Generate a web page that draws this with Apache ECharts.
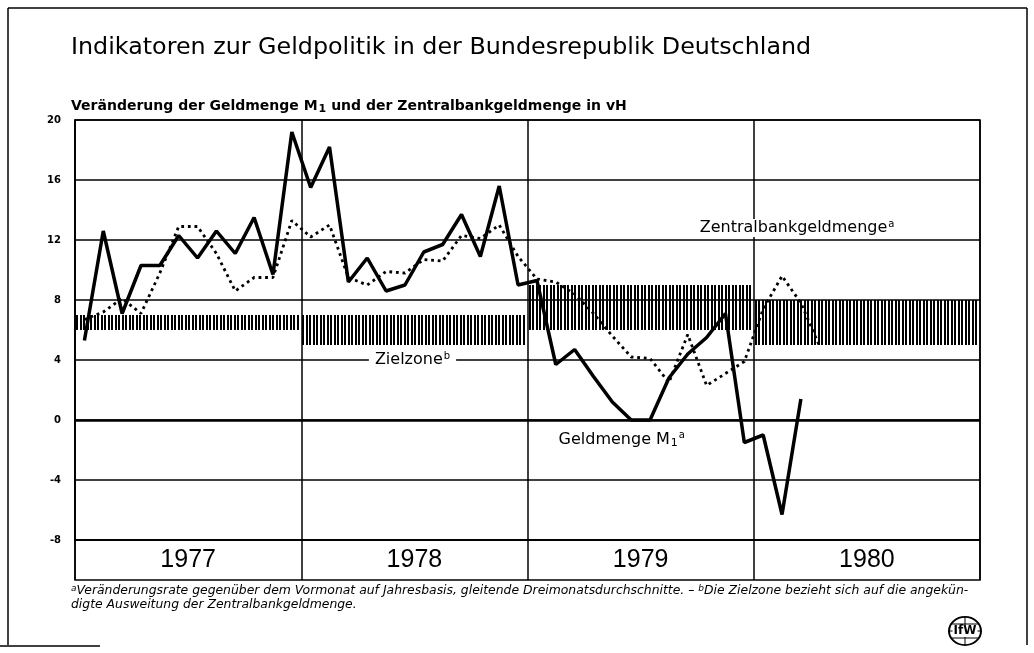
<!DOCTYPE html>
<html>
<head>
<meta charset="utf-8">
<script src="https://cdn.jsdelivr.net/npm/echarts@6/dist/echarts.min.js"></script>
<style>
  html, body { margin: 0; padding: 0; background: #fff; }
  #chart { width: 1034px; height: 653px; }
</style>
</head>
<body>
<div id="chart"></div>
<script>
// monthly values, Jan 1977 onwards (three-month moving averages, % p.a.)
const geldmengeM1 = [
  5.3, 12.6, 7.1, 10.3, 10.3, 12.3, 10.8, 12.6, 11.1, 13.5, 9.7, 19.2,
  15.5, 18.2, 9.2, 10.8, 8.6, 9.0, 11.2, 11.7, 13.7, 10.9, 15.6, 9.0,
  9.3, 3.7, 4.7, 2.9, 1.2, 0.0, 0.0, 2.8, 4.4, 5.5, 7.1, -1.5,
  -1.0, -6.3, 1.4
];
const zentralbankgeld = [
  6.7, 7.2, 8.1, 7.1, 9.8, 12.9, 12.9, 11.1, 8.6, 9.5, 9.5, 13.3,
  12.2, 13.0, 9.5, 9.0, 9.9, 9.8, 10.7, 10.6, 12.3, 12.1, 13.0, 10.9,
  9.4, 9.2, 8.4, 7.1, 5.6, 4.2, 4.1, 2.5, 5.7, 2.3, 3.1, 3.9,
  7.4, 9.6, 7.8, 4.9
];
// Zielzone per year (months from Jan 1977)
const zoneStart = [0, 12, 24, 36];
const zoneEnd = [12, 24, 36, 48];
const zoneLow = [6, 5, 6, 5];
const zoneHigh = [7, 7, 9, 8];
const years = ['1977', '1978', '1979', '1980'];

const toPoints = arr => arr.map((v, i) => [i + 0.5, v]);
const zoneData = zoneStart.map((s, i) => [s, zoneEnd[i], zoneLow[i], zoneHigh[i]]);

const chart = echarts.init(document.getElementById('chart'));

const sup = { fontSize: 10, verticalAlign: 'top', padding: [0, 0, 8, 1] };
const sub = { fontSize: 11, verticalAlign: 'bottom', padding: [6, 0, 0, 1] };

const option = {
  backgroundColor: '#fff',
  animation: false,
  title: [
    {
      text: 'Indikatoren zur Geldpolitik in der Bundesrepublik Deutschland',
      left: 66, top: 31,
      textStyle: { fontFamily: 'DejaVu Sans', fontSize: 23.8, fontWeight: 'normal', color: '#000' }
    },
    {
      text: 'Veränderung der Geldmenge M{s|1} und der Zentralbankgeldmenge in vH',
      left: 66, top: 93,
      textStyle: {
        fontFamily: 'DejaVu Sans', fontSize: 14, fontWeight: 'bold', color: '#000',
        rich: { s: Object.assign({ fontFamily: 'DejaVu Sans', fontWeight: 'bold', color: '#000' }, sub) }
      }
    },
    {
      text: '{a|a}Veränderungsrate gegenüber dem Vormonat auf Jahresbasis, gleitende Dreimonatsdurchschnitte. – {a|b}Die Zielzone bezieht sich auf die angekün-\ndigte Ausweitung der Zentralbankgeldmenge.',
      left: 66, top: 579,
      textStyle: {
        fontFamily: 'DejaVu Sans', fontSize: 12.4, fontStyle: 'italic', fontWeight: 'normal',
        color: '#000', lineHeight: 14,
        rich: { a: { fontSize: 9, verticalAlign: 'top', color: '#000', fontFamily: 'DejaVu Sans' } }
      }
    }
  ],
  grid: [
    { left: 75, right: 54, top: 120, height: 420, show: true, borderColor: '#000', borderWidth: 1.5 },
    { left: 75, right: 54, top: 540, height: 40, show: true, borderColor: '#000', borderWidth: 1.5 }
  ],
  xAxis: [
    {
      type: 'value', gridIndex: 0, min: 0, max: 48, interval: 12,
      axisLine: { show: false }, axisTick: { show: false }, axisLabel: { show: false },
      splitLine: { show: true, lineStyle: { color: '#000', width: 1.5 } }
    },
    {
      type: 'category', gridIndex: 1, data: years, boundaryGap: true,
      axisLine: { show: false }, axisTick: { show: false },
      axisLabel: { inside: true, margin: 7, fontFamily: 'Liberation Sans', fontSize: 25, color: '#000' },
      splitLine: { show: true, lineStyle: { color: '#000', width: 1.5 } }
    }
  ],
  yAxis: [
    {
      type: 'value', gridIndex: 0, min: -8, max: 20, interval: 4,
      axisLine: { show: true, lineStyle: { color: '#000', width: 1.5 } },
      axisTick: { show: false },
      axisLabel: { margin: 14, fontFamily: 'DejaVu Sans', fontWeight: 'bold', fontSize: 10, color: '#000' },
      splitLine: { show: true, lineStyle: { color: '#000', width: 1.5 } }
    },
    { type: 'value', gridIndex: 1, show: false, min: 0, max: 1 }
  ],
  series: [
    {
      name: 'Zielzone',
      type: 'custom',
      xAxisIndex: 0, yAxisIndex: 0,
      data: zoneData,
      encode: { x: [0, 1], y: [2, 3] },
      silent: true,
      renderItem: function (params, api) {
        const p0 = api.coord([api.value(0), api.value(3)]);
        const p1 = api.coord([api.value(1), api.value(2)]);
        const lines = [];
        for (let x = p0[0] + 2; x < p1[0] - 0.5; x += 3.5) {
          const xr = Math.round(x);
          lines.push({
            type: 'line',
            shape: { x1: xr, y1: p0[1], x2: xr, y2: p1[1] },
            style: { stroke: '#000', lineWidth: 2 }
          });
        }
        return { type: 'group', children: lines };
      },
      markPoint: {
        symbol: 'rect', symbolSize: 1, itemStyle: { color: 'rgba(0,0,0,0)' },
        label: {
          show: true, position: 'inside', backgroundColor: '#fff', padding: [0, 6],
          fontFamily: 'DejaVu Sans', fontSize: 16, color: '#000',
          formatter: 'Zielzone{b|b}',
          rich: { b: Object.assign({ fontFamily: 'DejaVu Sans', color: '#000' }, sup) }
        },
        data: [{ coord: [17.9, 4] }]
      }
    },
    {
      name: 'Zentralbankgeldmenge',
      type: 'line',
      xAxisIndex: 0, yAxisIndex: 0,
      data: toPoints(zentralbankgeld),
      showSymbol: false,
      lineStyle: { color: '#000', width: 2.8, type: [2.8, 3.8] },
      markPoint: {
        symbol: 'rect', symbolSize: 1, itemStyle: { color: 'rgba(0,0,0,0)' },
        label: {
          show: true, position: 'inside', backgroundColor: '#fff', padding: [0, 2],
          fontFamily: 'DejaVu Sans', fontSize: 16, color: '#000',
          formatter: 'Zentralbankgeldmenge{a|a}',
          rich: { a: Object.assign({ fontFamily: 'DejaVu Sans', color: '#000' }, sup) }
        },
        data: [{ coord: [38.3, 12.8] }]
      }
    },
    {
      name: 'Geldmenge M1',
      type: 'line',
      xAxisIndex: 0, yAxisIndex: 0,
      data: toPoints(geldmengeM1),
      showSymbol: false,
      lineStyle: { color: '#000', width: 3.5 },
      markLine: {
        silent: true, symbol: 'none', label: { show: false },
        lineStyle: { color: '#000', width: 2.5, type: 'solid' },
        data: [{ yAxis: 0 }]
      },
      markPoint: {
        symbol: 'rect', symbolSize: 1, itemStyle: { color: 'rgba(0,0,0,0)' },
        label: {
          show: true, position: 'inside', padding: [0, 2],
          fontFamily: 'DejaVu Sans', fontSize: 16, color: '#000',
          formatter: 'Geldmenge M{s|1}{a|a}',
          rich: {
            s: Object.assign({ fontFamily: 'DejaVu Sans', color: '#000' }, sub),
            a: Object.assign({ fontFamily: 'DejaVu Sans', color: '#000' }, sup)
          }
        },
        data: [{ coord: [29.0, -1.3] }]
      }
    }
  ],
  graphic: [
    { type: 'line', shape: { x1: 8, y1: 8, x2: 1027, y2: 8 }, style: { stroke: '#000', lineWidth: 1.5 } },
    { type: 'line', shape: { x1: 8, y1: 8, x2: 8, y2: 645 }, style: { stroke: '#000', lineWidth: 1.5 } },
    { type: 'line', shape: { x1: 1027, y1: 8, x2: 1027, y2: 645 }, style: { stroke: '#000', lineWidth: 1.5 } },
    { type: 'line', shape: { x1: 0, y1: 646, x2: 100, y2: 646 }, style: { stroke: '#000', lineWidth: 1.5 } },
    {
      type: 'group', x: 965, y: 631,
      children: [
        { type: 'circle', shape: { cx: 0, cy: 0, r: 16 }, scaleY: 0.88, style: { fill: '#fff', stroke: '#000', lineWidth: 2 } },
        { type: 'line', shape: { x1: -16, y1: 0, x2: 16, y2: 0 }, style: { stroke: '#000', lineWidth: 1 } },
        { type: 'line', shape: { x1: -13, y1: -7, x2: 13, y2: -7 }, style: { stroke: '#000', lineWidth: 1 } },
        { type: 'line', shape: { x1: -13, y1: 7, x2: 13, y2: 7 }, style: { stroke: '#000', lineWidth: 1 } },
        { type: 'line', shape: { x1: 0, y1: -14, x2: 0, y2: 14 }, style: { stroke: '#000', lineWidth: 1 } },
        {
          type: 'text', x: 0, y: 0,
          style: {
            text: 'IfW', fill: '#000', align: 'center', verticalAlign: 'middle',
            font: 'bold 12px "DejaVu Sans"', backgroundColor: '#fff', padding: [0, 1]
          }
        }
      ]
    }
  ]
};

chart.setOption(option);
</script>
</body>
</html>
